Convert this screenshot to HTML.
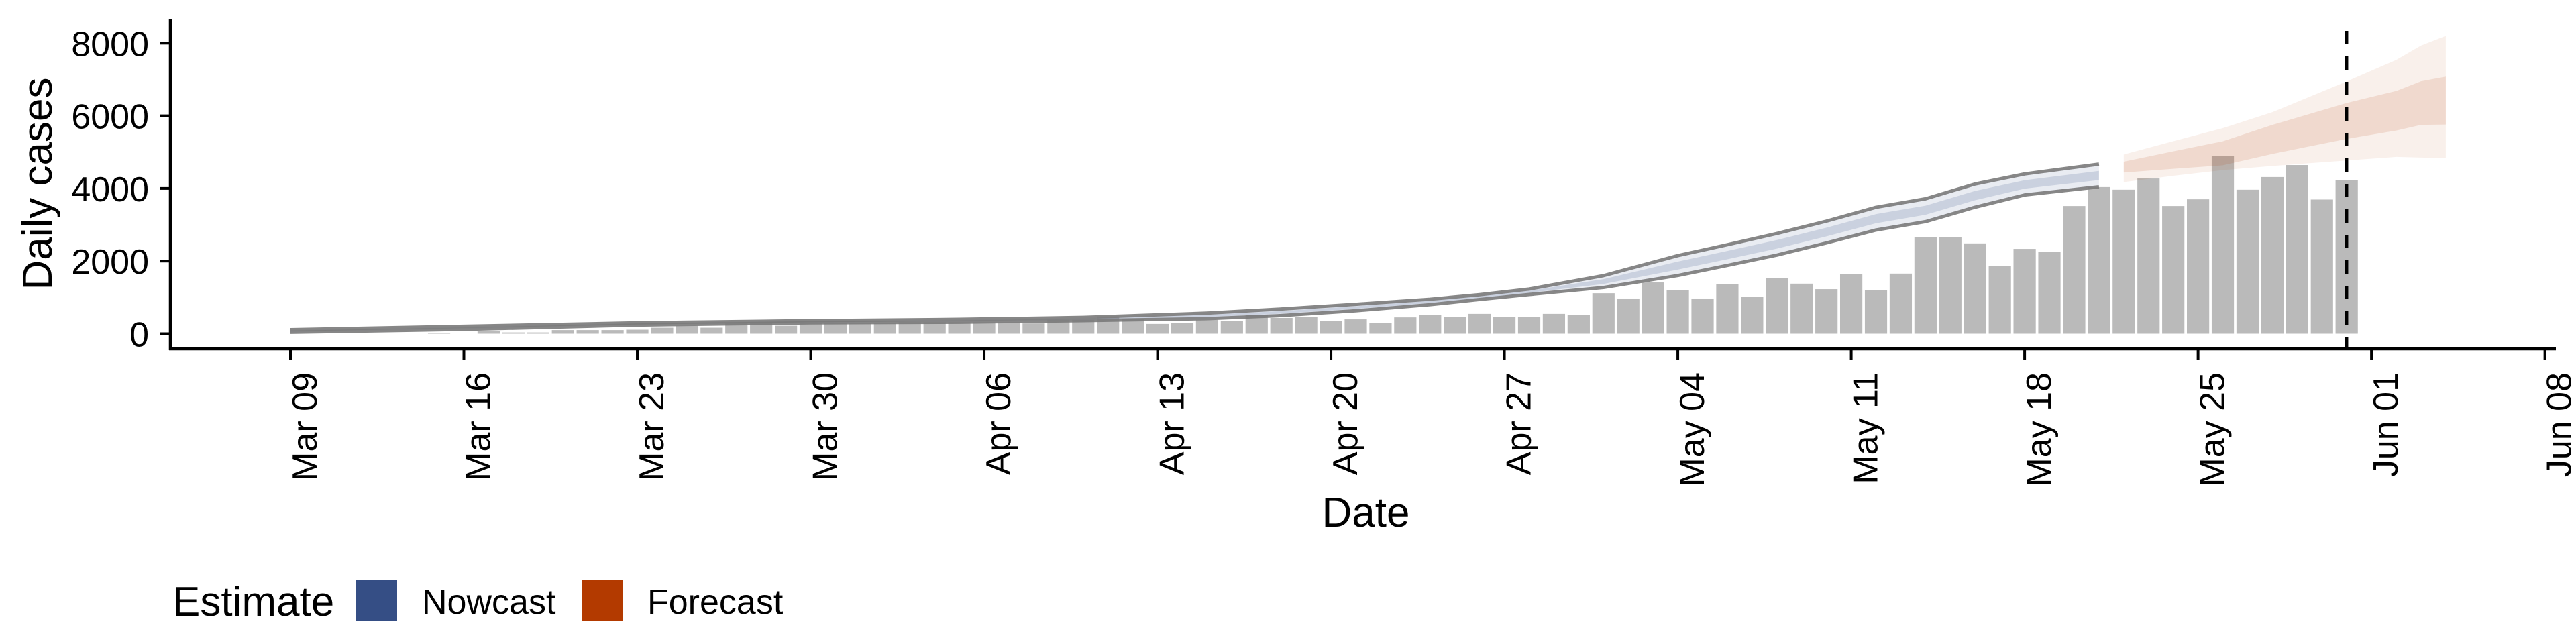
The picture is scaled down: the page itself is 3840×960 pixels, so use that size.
<!DOCTYPE html>
<html><head><meta charset="utf-8"><style>
html,body{margin:0;padding:0;background:#fff;}
svg{display:block;font-family:"Liberation Sans",Arial,sans-serif;}
</style></head><body>
<svg id="chart" width="3840" height="960" viewBox="0 0 3840 960" xmlns="http://www.w3.org/2000/svg">
<rect width="3840" height="960" fill="#fff"/>
<g id="marks"></g>
<g id="axes"></g>
<text x="77" y="274" transform="rotate(-90 77 274)" text-anchor="middle" font-size="62">Daily cases</text>
<text x="2036" y="785" text-anchor="middle" font-size="62">Date</text>
<g>
<text x="257" y="918" font-size="62">Estimate</text>
<rect x="530" y="864" width="62" height="62" fill="#354E85"/>
<text x="629" y="915" font-size="52">Nowcast</text>
<rect x="867" y="864" width="62" height="62" fill="#B33A00"/>
<text x="965" y="915" font-size="52">Forecast</text>
</g>
</svg>
<script>
// ---- data ----
var tickDays = [0,7,14,21,28,35,42,49,56,63,70,77,84,91];
var tickLabels = ["Mar 09","Mar 16","Mar 23","Mar 30","Apr 06","Apr 13","Apr 20","Apr 27","May 04","May 11","May 18","May 25","Jun 01","Jun 08"];
var yTicks = [0,2000,4000,6000,8000];
var cases = [0,0,0,0,0,0,10,0,65,35,
35,100,100,100,110,165,220,165,285,285,
220,300,285,285,300,317,317,317,317,317,
284,383,383,480,415,270,303,383,350,515,
435,468,343,396,303,450,508,468,547,455,
468,547,508,1115,970,1412,1207,970,1359,1022,
1524,1379,1227,1636,1194,1656,2652,2652,2487,1873,
2335,2262,3516,4037,3964,4274,3516,3700,4888,3964,
4314,4644,3694,4222];
var nowDays = [0,7,14,21,27,32,37,40,43,46,48,50,53,56,58,60,62,64,66,68,70,73];
var nowUpper = [110,205,300,360,396,450,567,680,811,950,1075,1230,1600,2150,2450,2760,3100,3480,3714,4123,4400,4670];
var nowLower = [40,119,237,300,317,360,415,500,633,800,943,1080,1273,1603,1880,2164,2500,2856,3087,3483,3820,4044];
var nowInnerUpper = [89,179,281,342,372,423,521,626,758,905,1035,1185,1502,1986,2279,2581,2920,3293,3526,3931,4226,4482];
var nowInnerLower = [61,145,256,318,341,387,461,554,686,845,983,1125,1371,1767,2051,2343,2680,3043,3275,3675,3994,4232];
var fcDays = [74,76,78,80,83,85,86,87];
var fcUpper = [4934,5300,5660,6100,6946,7540,7935,8200];
var fcLower = [4176,4350,4505,4620,4769,4868,4850,4835];
var fcInnerUpper = [4736,5020,5297,5750,6352,6682,6950,7078];
var fcInnerLower = [4439,4540,4637,4950,5363,5594,5750,5759];
var forecastDateDay = 83;

// ---- scales ----
function xs(d){ return 433 + 36.93*d; }
function ys(v){ return 497.5 - v*0.054150; }
var NS = "http://www.w3.org/2000/svg";
function mk(tag, attrs, parent){
  var e = document.createElementNS(NS, tag);
  for (var k in attrs) e.setAttribute(k, attrs[k]);
  parent.appendChild(e); return e;
}
var marks = document.getElementById('marks');
var axes = document.getElementById('axes');

// bars
var bw = 33.2;
cases.forEach(function(v, i){
  if (v <= 0) return;
  var r = mk('rect', {x: xs(i)-bw/2, y: ys(v), width: bw, height: ys(0)-ys(v), fill: '#BABABA'}, marks);
  
  
});

function band(days, up, lo, fill, name){
  var pts = [];
  days.forEach(function(d,i){ pts.push(xs(d)+','+ys(up[i])); });
  for (var i=days.length-1;i>=0;i--) pts.push(xs(days[i])+','+ys(lo[i]));
  var p = mk('polygon', {points: pts.join(' '), fill: fill}, marks);
  
  
}
function line(days, vals, name){
  var pts = days.map(function(d,i){ return xs(d)+','+ys(vals[i]); });
  var p = mk('polyline', {points: pts.join(' '), fill: 'none', stroke: '#7a7a7a', 'stroke-width': 5, 'stroke-opacity': 0.9, 'stroke-linejoin':'round'}, marks);
  
  
}
band(nowDays, nowUpper, nowLower, 'rgba(53,78,133,0.11)', 'nowcast-outer-band');
band(nowDays, nowInnerUpper, nowInnerLower, 'rgba(53,78,133,0.17)', 'nowcast-inner-band');
line(nowDays, nowUpper, 'nowcast-upper-line');
line(nowDays, nowLower, 'nowcast-lower-line');
band(fcDays, fcUpper, fcLower, 'rgba(179,58,0,0.08)', 'forecast-outer-band');
band(fcDays, fcInnerUpper, fcInnerLower, 'rgba(179,58,0,0.12)', 'forecast-inner-band');

// dashed forecast date line
var dl = mk('line', {x1: xs(forecastDateDay), x2: xs(forecastDateDay), y1: 46, y2: 520, stroke: '#000', 'stroke-width': 4.5, 'stroke-dasharray': '20 18'}, marks);



// axes
var ya = mk('line', {x1: 254, x2: 254, y1: 28, y2: 522, stroke: '#000', 'stroke-width': 4.5}, axes);


var xa = mk('line', {x1: 252, x2: 3810, y1: 520, y2: 520, stroke: '#000', 'stroke-width': 4.5}, axes);



yTicks.forEach(function(v){
  var y = ys(v);
  var t = mk('line', {x1: 239, x2: 254, y1: y, y2: y, stroke: '#000', 'stroke-width': 4}, axes);
  
  
  var l = mk('text', {x: 222, y: y+19, 'text-anchor': 'end', 'font-size': 52, fill: '#000'}, axes);
  l.textContent = v;
  
  
});
tickDays.forEach(function(d, i){
  var x = xs(d);
  var t = mk('line', {x1: x, x2: x, y1: 520, y2: 536, stroke: '#000', 'stroke-width': 4}, axes);
  
  
  var l = mk('text', {x: 0, y: 0, 'text-anchor': 'end', 'font-size': 52, fill: '#000', transform: 'translate('+(x+39)+',555) rotate(-90)'}, axes);
  l.textContent = tickLabels[i];
  
  
});
</script>
</body></html>
